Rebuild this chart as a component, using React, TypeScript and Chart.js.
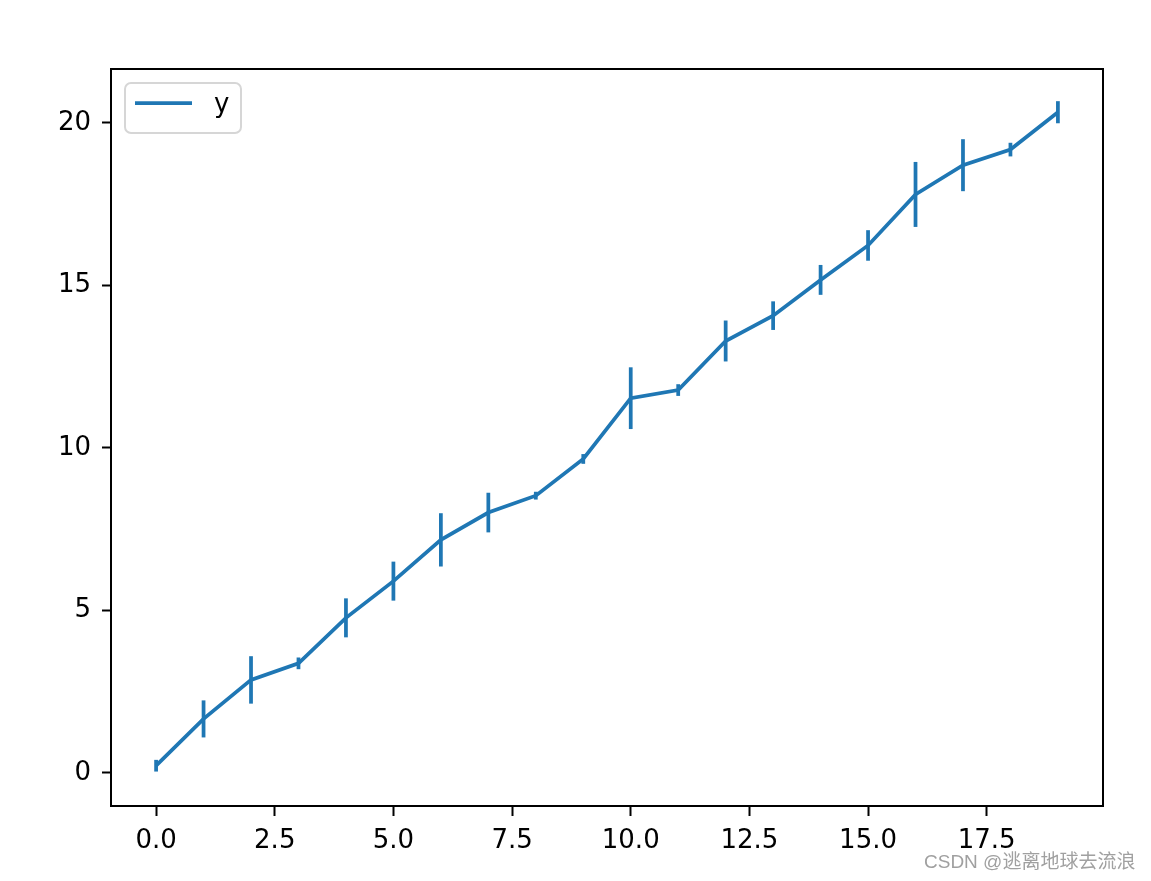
import React, { useEffect, useRef } from "react";
import { Chart, registerables } from "chart.js";

Chart.register(...registerables);

const xValues = [0, 1, 2, 3, 4, 5, 6, 7, 8, 9, 10, 11, 12, 13, 14, 15, 16, 17, 18, 19];
const yValues = [0.22, 1.66, 2.86, 3.37, 4.77, 5.9, 7.17, 8.01, 8.53, 9.66, 11.53, 11.78, 13.29, 14.07, 15.17, 16.23, 17.8, 18.7, 19.18, 20.33];
const yErrors = [0.18, 0.57, 0.73, 0.18, 0.6, 0.6, 0.82, 0.61, 0.12, 0.15, 0.95, 0.18, 0.63, 0.44, 0.46, 0.47, 1.0, 0.8, 0.21, 0.34];
const xTickValues = [0, 2.5, 5, 7.5, 10, 12.5, 15, 17.5];
const yTickValues = [0, 5, 10, 15, 20];
const seriesLabel = "y";
const watermark = "CSDN @逃离地球去流浪";

const BLUE = "#1f77b4";
const FONT = "'DejaVu Sans', sans-serif";

const overlayPlugin = {
  id: "mplOverlay",
  afterDatasetsDraw(chart: any) {
    const ctx = chart.ctx;
    const xs = chart.scales.x;
    const ys = chart.scales.y;
    ctx.save();
    ctx.strokeStyle = BLUE;
    ctx.lineWidth = 3.75;
    ctx.lineCap = "butt";
    for (let i = 0; i < xValues.length; i++) {
      const px = xs.getPixelForValue(xValues[i]);
      const top = ys.getPixelForValue(yValues[i] + yErrors[i]);
      const bot = ys.getPixelForValue(yValues[i] - yErrors[i]);
      ctx.beginPath();
      ctx.moveTo(px, top);
      ctx.lineTo(px, bot);
      ctx.stroke();
    }
    ctx.restore();
  },
  afterDraw(chart: any) {
    const ctx = chart.ctx;
    const a = chart.chartArea;
    ctx.save();
    ctx.strokeStyle = "#000";
    ctx.lineWidth = 2;
    ctx.strokeRect(a.left, a.top, a.right - a.left, a.bottom - a.top);
    const lx = a.left + 14;
    const ly = a.top + 14;
    const lw = 116;
    const lh = 50;
    const r = 6;
    ctx.beginPath();
    ctx.moveTo(lx + r, ly);
    ctx.lineTo(lx + lw - r, ly);
    ctx.arcTo(lx + lw, ly, lx + lw, ly + r, r);
    ctx.lineTo(lx + lw, ly + lh - r);
    ctx.arcTo(lx + lw, ly + lh, lx + lw - r, ly + lh, r);
    ctx.lineTo(lx + r, ly + lh);
    ctx.arcTo(lx, ly + lh, lx, ly + lh - r, r);
    ctx.lineTo(lx, ly + r);
    ctx.arcTo(lx, ly, lx + r, ly, r);
    ctx.closePath();
    ctx.fillStyle = "rgba(255,255,255,0.8)";
    ctx.fill();
    ctx.strokeStyle = "#d6d6d6";
    ctx.lineWidth = 2;
    ctx.stroke();
    ctx.strokeStyle = BLUE;
    ctx.lineWidth = 3.75;
    ctx.beginPath();
    ctx.moveTo(lx + 10, ly + 20);
    ctx.lineTo(lx + 67, ly + 20);
    ctx.stroke();
    ctx.fillStyle = "#000";
    ctx.font = `26px ${FONT}`;
    ctx.textBaseline = "middle";
    ctx.textAlign = "left";
    ctx.fillText(seriesLabel, lx + 89, ly + 22);
    ctx.restore();
  },
};

export default function App() {
  const ref = useRef<HTMLCanvasElement | null>(null);
  useEffect(() => {
    if (!ref.current) return;
    const chart = new Chart(ref.current, {
      type: "line",
      data: {
        datasets: [
          {
            label: seriesLabel,
            data: xValues.map((x, i) => ({ x, y: yValues[i] })),
            borderColor: BLUE,
            borderWidth: 3.75,
            pointRadius: 0,
            fill: false,
            tension: 0,
          },
        ],
      },
      options: {
        animation: false,
        responsive: true,
        maintainAspectRatio: false,
        layout: { padding: { left: 0, top: 69, right: 48, bottom: 0 } },
        plugins: { legend: { display: false }, tooltip: { enabled: false } },
        scales: {
          x: {
            type: "linear",
            min: -0.95,
            max: 19.95,
            afterFit: (s: any) => {
              s.height = 75;
            },
            afterBuildTicks: (s: any) => {
              s.ticks = xTickValues.map((v) => ({ value: v }));
            },
            border: { display: false },
            grid: {
              drawOnChartArea: false,
              drawTicks: true,
              tickLength: 10,
              tickWidth: 2,
              tickColor: "#000",
            },
            ticks: {
              color: "#000",
              font: { family: FONT, size: 26 },
              padding: 10,
              maxRotation: 0,
              autoSkip: false,
              callback: (v: any) => Number(v).toFixed(1),
            },
          },
          y: {
            type: "linear",
            min: -1.02,
            max: 21.66,
            afterFit: (s: any) => {
              s.width = 111;
            },
            afterBuildTicks: (s: any) => {
              s.ticks = yTickValues.map((v) => ({ value: v }));
            },
            border: { display: false },
            grid: {
              drawOnChartArea: false,
              drawTicks: true,
              tickLength: 9,
              tickWidth: 2,
              tickColor: "#000",
            },
            ticks: {
              color: "#000",
              font: { family: FONT, size: 26 },
              padding: 11,
              autoSkip: false,
              callback: (v: any) => String(v),
            },
          },
        },
      },
      plugins: [overlayPlugin],
    });
    return () => chart.destroy();
  }, []);
  return (
    <div style={{ position: "fixed", left: 0, top: 0, width: 1151, height: 881, background: "#fff" }}>
      <canvas ref={ref} />
      <span
        style={{
          position: "absolute",
          left: 924,
          top: 848,
          fontFamily: "'Liberation Sans', 'Noto Sans CJK SC', sans-serif",
          fontSize: 19,
          color: "#a0a0a0",
          whiteSpace: "nowrap",
          lineHeight: "28px",
        }}
      >
        {watermark}
      </span>
    </div>
  );
}
